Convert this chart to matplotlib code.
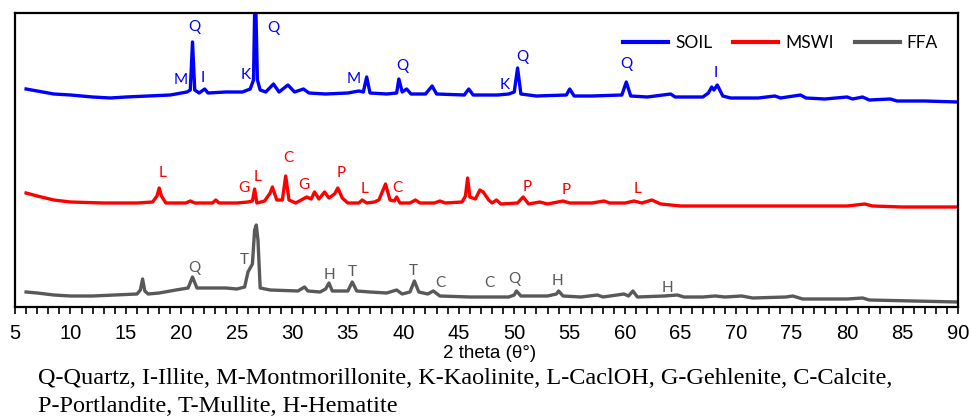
import matplotlib
matplotlib.use("Agg")
import matplotlib.pyplot as plt
from matplotlib.ticker import MultipleLocator

# SOIL pattern (2 theta, intensity a.u.)
soil_x = [6.0, 7.0, 8.5, 10, 12, 13.6, 15, 17, 19, 20.0, 20.5, 20.8, 21.0, 21.2, 21.6, 22.1, 22.4,
          24, 25.5, 26.2, 26.5, 26.65, 26.85, 27.1, 27.6, 28.3, 28.8, 29.6, 30.2, 31.0, 31.5, 33, 35,
          36.0, 36.4, 36.7, 37.0, 38.5, 39.4, 39.6, 39.9, 40.3, 40.7, 42.0, 42.6, 43.0, 45.5, 45.9,
          46.3, 48.5, 49.5, 50.0, 50.3, 50.6, 52, 54.7, 55.0, 55.4, 57, 59.7, 60.1, 60.5, 62, 64.1,
          64.5, 67.0, 67.5, 67.8, 68.0, 68.3, 68.8, 69.5, 72, 73.5, 74, 75.8, 76.3, 78, 80.0, 80.5,
          81.4, 82, 83.9, 84.5, 87, 90]
soil_y = [218, 216, 213, 212, 210, 209, 210, 211, 212, 214, 215, 217, 265, 217, 214, 218, 214,
          215, 215, 218, 227, 330, 227, 217, 215, 223, 215, 222, 215, 218, 214, 213, 214,
          216, 215, 230, 214, 213, 214, 228, 215, 218, 213, 213, 221, 213, 212, 218,
          212, 212, 213, 215, 239, 213, 211, 212, 218, 211, 211, 212, 225, 211, 210, 213,
          210, 210, 214, 220, 217, 222, 211, 209, 209, 211, 209, 212, 209, 208, 210, 208,
          210, 207, 208, 206, 206, 205]

# MSWI pattern
mswi_x = [6.0, 7.0, 8.5, 10, 13, 16, 17.4, 17.8, 18.0, 18.2, 18.6, 20.4, 20.8, 21.2, 22.8, 23.1,
          23.4, 25.0, 26.0, 26.4, 26.6, 26.8, 27.5, 28.0, 28.2, 28.6, 29.1, 29.4, 29.7, 30.3, 30.8,
          31.3, 31.7, 32.0, 32.4, 32.9, 33.3, 33.8, 34.1, 34.5, 35.0, 36.0, 36.3, 36.7, 37.4, 37.8,
          38.4, 38.8, 39.2, 39.4, 39.7, 40.6, 41.1, 41.5, 42.8, 43.3, 43.8, 45.3, 45.6, 45.8, 46.0,
          46.5, 46.9, 47.2, 47.7, 48.0, 48.4, 48.8, 50.3, 50.8, 51.3, 52.3, 53, 54.4, 55, 57, 58.1,
          58.6, 60.0, 60.8, 61.5, 62.4, 63.2, 65, 70, 75, 80, 81.6, 82.3, 85, 90]
mswi_y = [114, 111, 107, 105, 104, 104, 105, 111, 119, 111, 104, 104, 106, 104, 104, 107,
          104, 104, 105, 106, 118, 104, 106, 114, 120, 107, 107, 131, 107, 104, 107,
          110, 108, 115, 108, 115, 109, 113, 119, 109, 104, 104, 107, 104, 105, 107,
          123, 107, 106, 110, 104, 104, 107, 104, 104, 106, 104, 105, 111, 129, 110,
          108, 117, 115, 107, 104, 107, 103, 104, 110, 103, 105, 103, 106, 104, 104, 106,
          104, 104, 106, 104, 107, 103, 101, 101, 101, 101, 103, 101, 100, 100]

# FFA pattern
ffa_x = [6.0, 7.0, 8.5, 10, 12, 14, 16.0, 16.3, 16.5, 16.7, 17.0, 18, 19.5, 20.6, 21.0, 21.4, 22,
         24, 25.0, 25.7, 26.0, 26.2, 26.4, 26.6, 26.75, 26.9, 27.1, 28, 30.5, 31.1, 31.4, 32.5,
         33.0, 33.3, 33.6, 35.0, 35.4, 35.8, 37, 38.5, 39.4, 39.9, 40.6, 41.0, 41.4, 42.2, 42.7,
         43.3, 46, 48, 49.5, 50.0, 50.2, 50.6, 53, 53.8, 54.0, 54.4, 56, 57.5, 58.0, 59.9, 60.3,
         60.7, 61.1, 63.5, 64.7, 65.3, 67, 68.1, 69.0, 70.5, 71.5, 74.5, 75.1, 76, 80, 81.4, 82,
         86, 90]
ffa_y = [15, 14, 12, 11, 11, 12, 13, 17, 28, 16, 13, 14, 17, 19, 30, 19, 19,
         19, 18, 20, 35, 39, 43, 77, 82, 67, 19, 17, 16, 20, 16, 15,
         18, 24, 16, 16, 25, 16, 15, 14, 17, 13, 15, 26, 15, 13, 16,
         11, 10, 10, 10, 12, 16, 11, 11, 13, 16, 11, 10, 12, 10, 13, 11,
         16, 10, 11, 12, 10, 10, 11, 10, 11, 9, 10, 11, 8, 8, 9, 7,
         6, 5]

# phase labels: (text, 2theta, height)
soil_labels = [("Q", 21.2, 280), ("M", 19.9, 227), ("I", 21.9, 229), ("K", 25.8, 232),
               ("Q", 28.3, 279), ("M", 35.5, 228), ("Q", 39.9, 241), ("K", 49.1, 222),
               ("Q", 50.7, 250), ("Q", 60.1, 243), ("I", 68.2, 234)]
mswi_labels = [("L", 18.3, 134), ("G", 25.6, 119), ("L", 26.9, 130), ("C", 29.6, 149),
               ("G", 31.0, 122), ("P", 34.4, 134), ("L", 36.5, 118), ("C", 39.5, 119),
               ("P", 51.2, 120), ("P", 54.7, 117), ("L", 61.1, 118)]
ffa_labels = [("Q", 21.2, 39), ("T", 25.7, 47), ("H", 33.3, 32), ("T", 35.4, 35),
              ("T", 40.9, 36), ("C", 43.3, 24), ("C", 47.8, 24), ("Q", 50.0, 28),
              ("H", 53.9, 26), ("H", 63.8, 19)]

blue = "#0000ff"
red = "#ff0000"
grey = "#595959"

fig = plt.figure(figsize=(9.71, 4.18), dpi=100)
ax = fig.add_axes([15 / 971, 111 / 418, 943 / 971, 294 / 418])

ax.plot(soil_x, soil_y, color=blue, lw=2.4, label="SOIL", solid_joinstyle="round")
ax.plot(mswi_x, mswi_y, color=red, lw=2.4, label="MSWI", solid_joinstyle="round")
ax.plot(ffa_x, ffa_y, color=grey, lw=2.4, label="FFA", solid_joinstyle="round")

for labels, c in [(soil_labels, blue), (mswi_labels, red), (ffa_labels, grey)]:
    for t, x, y in labels:
        ax.text(x, y, t, color=c, fontsize=11, family="Lato", ha="center", va="center")

ax.set_xlim(5, 90)
ax.set_ylim(0, 294)
ax.set_yticks([])
ax.xaxis.set_major_locator(MultipleLocator(5))
ax.xaxis.set_minor_locator(MultipleLocator(1))
ax.tick_params(axis="x", which="both", direction="out", length=5, width=1.2, pad=7)
for lab in ax.get_xticklabels():
    lab.set_family("Liberation Sans")
    lab.set_fontsize(14.5)
for s in ax.spines.values():
    s.set_linewidth(1.6)

fig.text(490 / 971, 1 - 354 / 418, "2 theta (\u03b8\u00b0)", ha="center", va="center",
         fontsize=13.5, family="Liberation Sans")

leg = ax.legend(ncol=3, frameon=False, loc="center left", bbox_to_anchor=(0.645, 0.898),
                borderpad=0, borderaxespad=0, handlelength=2.6, handletextpad=0.4,
                columnspacing=1.2, prop={"family": "Lato", "size": 12.5})
for h in leg.get_lines():
    h.set_linewidth(3)

fig.text(38 / 971, 1 - 379 / 418,
         "Q-Quartz, I-Illite, M-Montmorillonite, K-Kaolinite, L-CaclOH, G-Gehlenite, C-Calcite,",
         ha="left", va="center", fontsize=17.5, family="Liberation Serif")
fig.text(38 / 971, 1 - 406 / 418, "P-Portlandite, T-Mullite, H-Hematite",
         ha="left", va="center", fontsize=17.5, family="Liberation Serif")

fig.savefig("out.png", dpi=100)
